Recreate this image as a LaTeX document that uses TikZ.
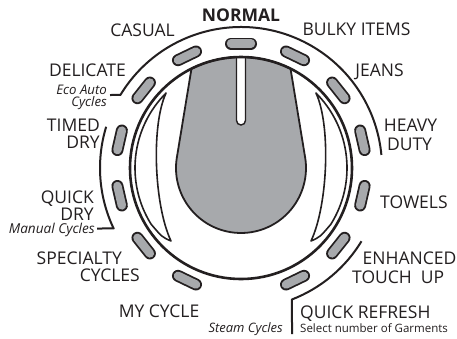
\documentclass[tikz,border=0pt]{standalone}
\usepackage{fontspec}
\setmainfont{Open Sans}
\usetikzlibrary{calc}
\definecolor{ink}{HTML}{231F20}
\definecolor{knobgray}{HTML}{A7A9AC}
\begin{document}
\begin{tikzpicture}[x=1pt,y=-1pt,
  lbl/.style={font=\fontsize{17.5}{17.5}\selectfont, text=ink, inner sep=0pt},
  sub/.style={font=\fontsize{13.6}{11.4}\selectfont\itshape, text=ink, inner sep=0pt},
  ecolbl/.style={font=\fontsize{13.2}{12.4}\selectfont\itshape, text=ink, inner sep=0pt},
  steamlbl/.style={font=\fontsize{13}{13}\selectfont\itshape, text=ink, inner sep=0pt},
  small/.style={font=\fontsize{11.5}{11.5}\selectfont, text=ink, inner sep=0pt},
  ringline/.style={draw=ink, line width=2pt, line join=round},
  slotout/.style={draw=ink, line width=12pt, line cap=round},
  slotin/.style={draw=knobgray, line width=8.4pt, line cap=round},
  crescent/.style={fill=white, draw=ink, line width=1.6pt, line join=round}]
\useasboundingbox[fill=white] (0,0) rectangle (457,338);
\coordinate (C) at (241,168);
% knob grip
\filldraw[fill=knobgray, draw=ink, line width=1.8pt]
  ($(C)+(-116.5:111)$) -- ($(C)+(-170.6:65)$)
  arc[start angle=-170.6, end angle=-369.4, radius=65]
  -- ($(C)+(-63.5:111)$)
  arc[start angle=-63.5, end angle=-116.5, radius=111] -- cycle;
% pointer
\filldraw[fill=white, draw=ink, line width=1.4pt]
  (236.5,57) -- (236.5,120.5) arc[start angle=180, end angle=0, radius=4.5] -- (245.5,57);
% crescents
\coordinate (LT) at ($(C)+(-135:106)$);
\coordinate (LB) at (171,241);
\filldraw[crescent] (LT) arc[start angle=-135, end angle=-212, radius=106]
  .. controls (162,237) .. (LB)
  .. controls (154,205) and (151,125) .. (LT) -- cycle;
\coordinate (RT) at ($(C)+(-45:106)$);
\coordinate (RB) at (311,241);
\filldraw[crescent] (RT) arc[start angle=-45, end angle=32, radius=106]
  .. controls (320,237) .. (RB)
  .. controls (328,205) and (331,125) .. (RT) -- cycle;
% main circle
\draw[draw=ink, line width=2.6pt] (C) circle[radius=111];
% slots
\foreach \k in {-6,...,6} {
  \pgfmathsetmacro\ang{-(90+\k*360/14)}
  \coordinate (sa\k) at ($(C)+(\ang:124.5)+({\ang+90}:10)$);
  \coordinate (sb\k) at ($(C)+(\ang:124.5)+({\ang-90}:10)$);
  \draw[slotout] (sa\k) -- (sb\k);
  \draw[slotin] (sa\k) -- (sb\k);
}
% outer ring arcs / brackets
\coordinate (ecoend) at (110,95);
\draw[ringline] (ecoend) -- ($(C)+(-148.8:141)$) arc[start angle=-148.8, end angle=-5.3, radius=141];
\coordinate (manend) at (97,228.5);
\draw[ringline] ($(C)+(-163:141)$) arc[start angle=-163, end angle=-205.4, radius=141] -- (manend);
\coordinate (steamend) at (292,334);
\draw[ringline] ($(C)+(31.3:141)$) arc[start angle=31.3, end angle=68.8, radius=141] -- (steamend);
% labels
\node[lbl, anchor=base] (normal) at (241,21.5) {\bfseries NORMAL};
\node[lbl, anchor=base] (casual) at (142.5,36) {CASUAL};
\node[lbl, anchor=base] (bulky) at (356.5,35) {BULKY ITEMS};
\node[lbl, anchor=base east] (delicate) at (126,76.7) {DELICATE};
\node[ecolbl, anchor=east, align=right] (eco) at (107,97.5) {Eco Auto\\Cycles};
\node[lbl, anchor=base] (jeans) at (379.5,76) {JEANS};
\node[lbl, anchor=base east] (timed) at (100,131.5) {TIMED};
\node[lbl, anchor=base east] (tdry) at (100,148) {DRY};
\node[lbl, anchor=base] (heavy) at (410.5,131.5) {HEAVY};
\node[lbl, anchor=base] (duty) at (409.5,150) {DUTY};
\node[lbl, anchor=base east] (quick) at (94,203) {QUICK};
\node[lbl, anchor=base east] (qdry) at (94,220.5) {DRY};
\node[sub, anchor=base east] (manual) at (95,233.8) {Manual Cycles};
\node[lbl, anchor=base west] (towels) at (380,208) {TOWELS};
\node[lbl, anchor=base east] (specialty) at (122,264.7) {SPECIALTY};
\node[lbl, anchor=base east] (cycles) at (140,281.3) {CYCLES};
\node[lbl, anchor=base west] (enhanced) at (362.5,264.7) {ENHANCED};
\node[lbl, anchor=base west] (touch) at (352,283) {TOUCH\ \ UP};
\node[lbl, anchor=base] (mycycle) at (159,317) {MY CYCLE};
\node[lbl, anchor=base west] (refresh) at (300,318.3) {QUICK REFRESH};
\node[small, anchor=base west] (select) at (300,332.7) {Select number of Garments};
\node[steamlbl, anchor=base east] (steam) at (283,332.7) {Steam Cycles};
\end{tikzpicture}
\end{document}
